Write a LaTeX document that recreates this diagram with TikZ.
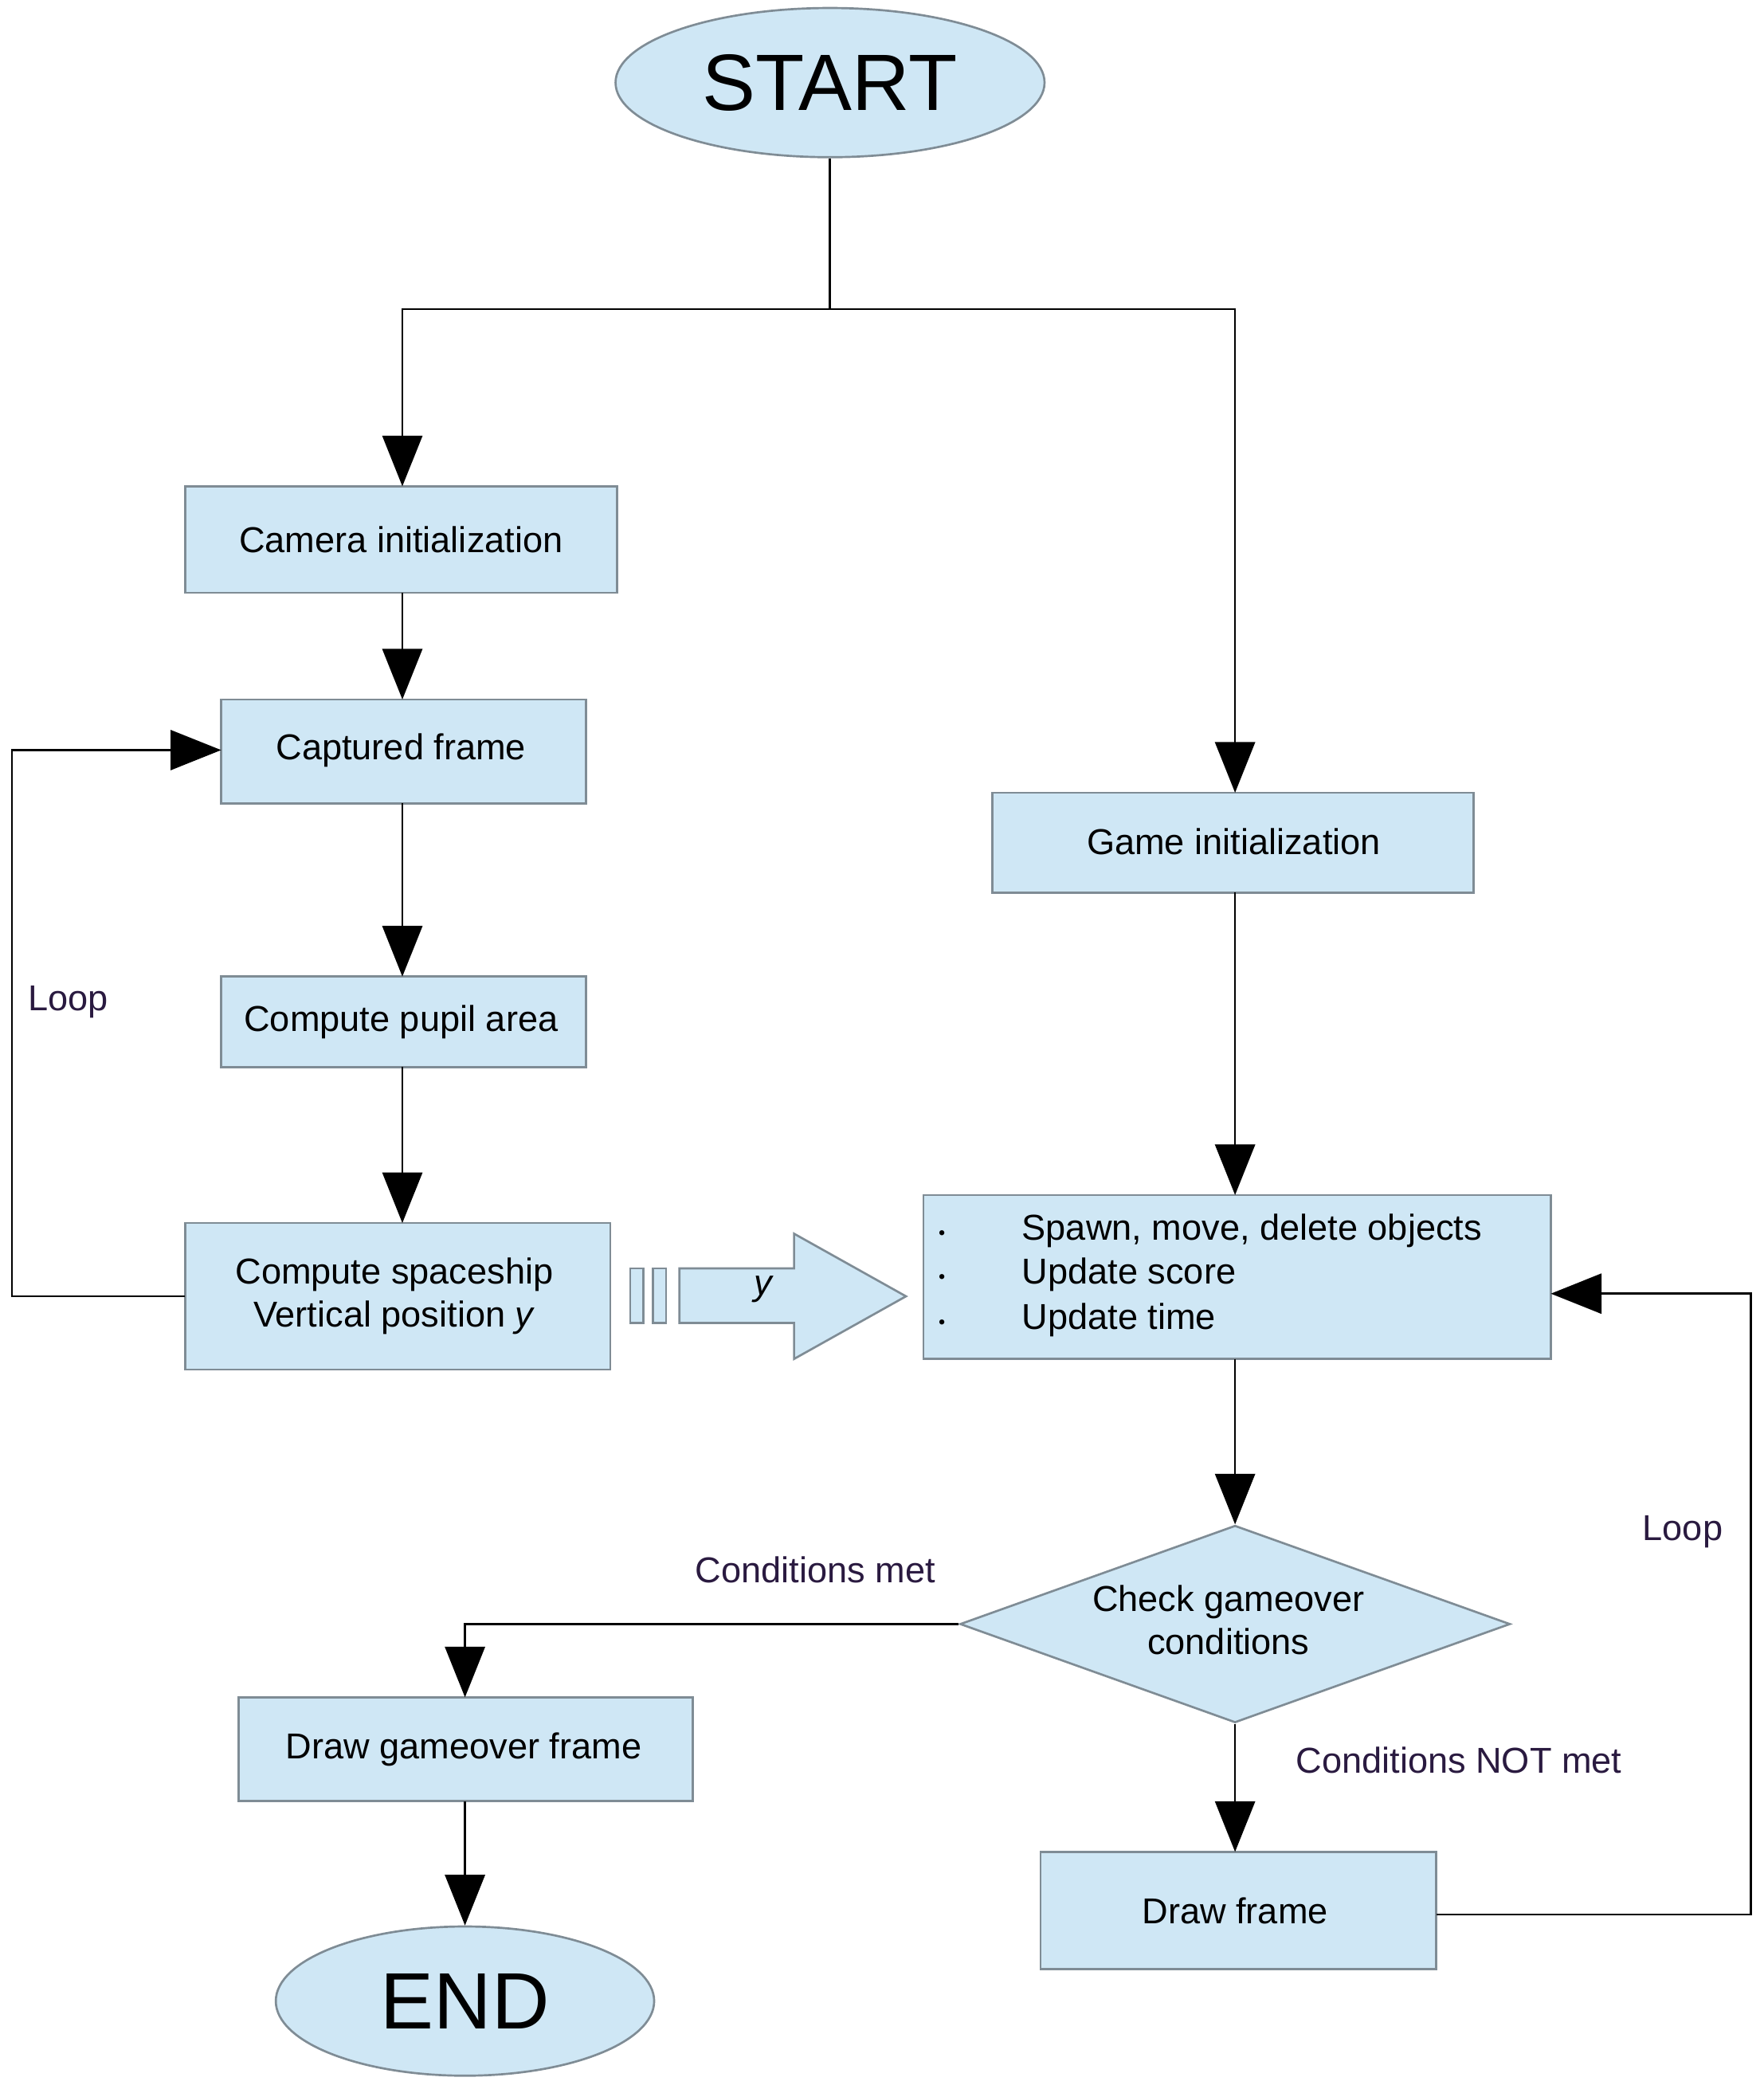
\documentclass[tikz,border=0pt]{standalone}
\usepackage{fontspec}
\setmainfont{Liberation Sans}
\usetikzlibrary{shapes.geometric,arrows.meta}
\definecolor{boxfill}{HTML}{CFE7F5}
\definecolor{boxline}{HTML}{7F8C95}
\definecolor{lab}{HTML}{2A1A40}
\begin{document}
\begin{tikzpicture}[x=0.5pt,y=-0.5pt,
  box/.style={draw=boxline,fill=boxfill,line width=0.8pt,inner sep=0pt},
  txt/.style={font=\fontsize{13.5}{16}\selectfont},
  lbl/.style={font=\fontsize{13.5}{16}\selectfont,text=lab},
  arr/.style={-{Triangle[length=19pt,width=15pt]},line width=0.8pt},
  ln/.style={line width=0.8pt}]
\useasboundingbox (0,0) rectangle (1324,1568);
% START
\node[box,ellipse,minimum width=161pt,minimum height=56pt] (start) at (623,62) {};
\node[font=\fontsize{30}{34}\selectfont] at (623,62) {START};
\coordinate (j) at (623,232);
\coordinate (jl) at (302,232);
\coordinate (jr) at (927,232);
% boxes
\draw[box] (139,365) rectangle (463,445); \node[txt] (cam) at (301,405) {Camera initialization};
\draw[box] (166,525) rectangle (440,603); \node[txt] (cap) at (301,563) {Captured frame};
\draw[box] (166,733) rectangle (440,801); \node[txt] (pup) at (301,767) {Compute pupil area};
\draw[box] (139,918) rectangle (458,1028);
\node[txt,align=center] (sp) at (296,973) {Compute spaceship\\Vertical position \textit{y}};
\draw[box] (745,595) rectangle (1106,670); \node[txt] (gi) at (926,632) {Game initialization};
\draw[box] (693,897) rectangle (1164,1020);
\foreach \yy/\t in {924/{Spawn, move, delete objects},957/{Update score},991/{Update time}}{
  \node[font=\fontsize{7}{8}\selectfont] at (707,\yy+3) {\textbullet};
  \node[txt,anchor=west] at (760,\yy) {\t};}
\coordinate (spT) at (927,897); \coordinate (spB) at (927,1020); \coordinate (spR) at (1164,971);
\node[box,diamond,aspect=2.79,minimum width=206.5pt,minimum height=74pt] (dia) at (927,1219) {};
\node[txt,align=center] at (922,1216) {Check gameover\\conditions};
\draw[box] (179,1274) rectangle (520,1352); \node[txt] (dg) at (348,1313) {Draw gameover frame};
\draw[box] (781,1390) rectangle (1078,1478); \node[txt] (df) at (927,1434) {Draw frame};
\node[box,ellipse,minimum width=142pt,minimum height=56pt] (end) at (349,1502) {};
\node[font=\fontsize{30}{34}\selectfont] at (349,1502) {END};
% big arrow
\draw[box] (473,952) rectangle (483,993);
\draw[box] (490,952) rectangle (500,993);
\draw[box] (510,952) -- (596,952) -- (596,926) -- (680,973) -- (596,1020) -- (596,993) -- (510,993) -- cycle;
\node[txt,font=\fontsize{13.5}{16}\selectfont\itshape] at (573,968) {y};
% connectors
\draw[ln] (start.south) -- (j);
\draw[arr] (j) -- (jl) -- (302,365);
\draw[arr] (j) -- (jr) -- (927,595);
\draw[arr] (302,445) -- (302,525);
\draw[arr] (302,603) -- (302,733);
\draw[arr] (302,801) -- (302,918);
\draw[arr] (139,973) -- (9,973) -- (9,563) -- (166,563);
\node[lbl] at (51,752) {Loop};
\draw[arr] (927,670) -- (spT);
\draw[arr] (spB) -- (dia.north);
\draw[arr] (dia.west) -- (349,1219) -- (349,1274);
\node[lbl] at (612,1178) {Conditions met};
\draw[arr] (dia.south) -- (927,1390);
\node[lbl] at (1095,1321) {Conditions NOT met};
\draw[arr] (1078,1437) -- (1314,1437) -- (1314,971) -- (spR);
\node[lbl] at (1263,1150) {Loop};
\draw[arr] (349,1352) -- (end.north);
\end{tikzpicture}
\end{document}
